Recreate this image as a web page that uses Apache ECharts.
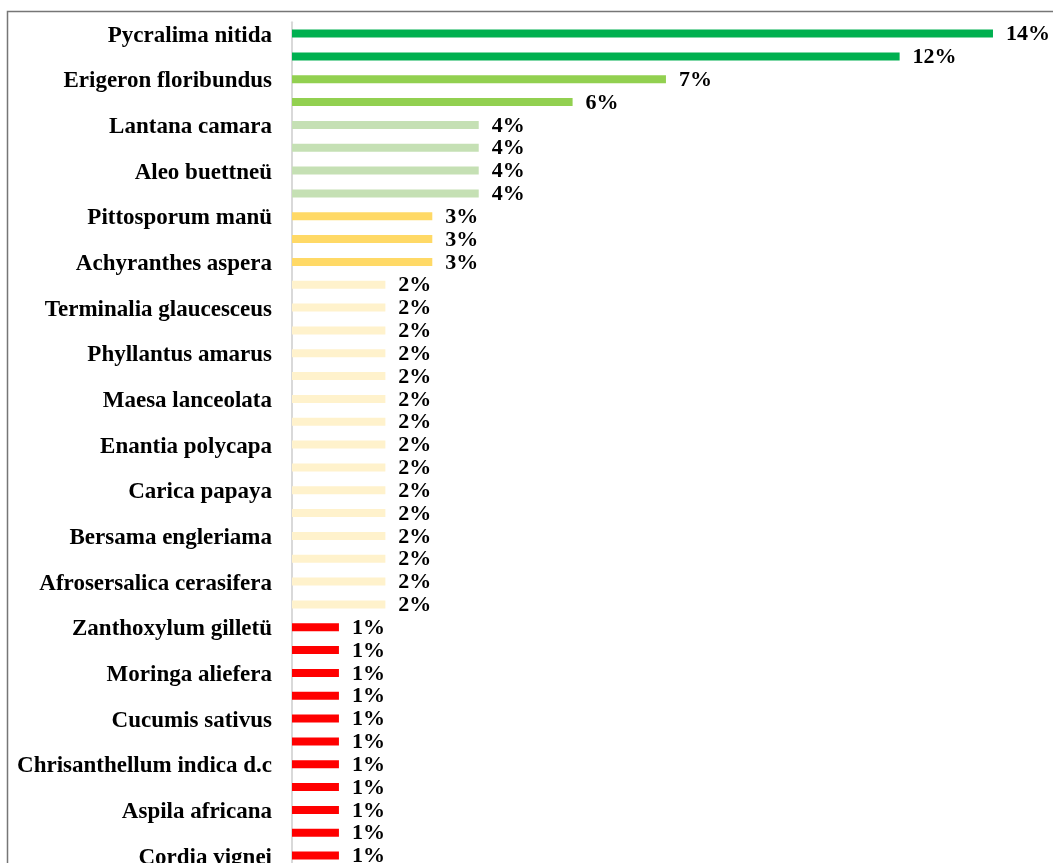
<!DOCTYPE html>
<html>
<head>
<meta charset="utf-8">
<script src="https://cdn.jsdelivr.net/npm/echarts@6/dist/echarts.min.js"></script>
<style>
html,body{margin:0;padding:0;background:#fff;}
#chart{width:1053px;height:863px;}
</style>
</head>
<body>
<div id="chart"></div>
<script>
// Categories (top to bottom); rows whose names are not shown in the picture are left blank
const categories = [
  "Pycralima nitida", "",
  "Erigeron floribundus", "",
  "Lantana camara", "",
  "Aleo buettneü", "",
  "Pittosporum manü", "",
  "Achyranthes aspera", "",
  "Terminalia glaucesceus", "",
  "Phyllantus amarus", "",
  "Maesa lanceolata", "",
  "Enantia polycapa", "",
  "Carica papaya", "",
  "Bersama engleriama", "",
  "Afrosersalica cerasifera", "",
  "Zanthoxylum gilletü", "",
  "Moringa aliefera", "",
  "Cucumis sativus", "",
  "Chrisanthellum indica d.c", "",
  "Aspila africana", "",
  "Cordia vignei"
];
// Percentages (share of citations)
const values = [
  13.89, 12.04,
  7.41, 5.56,
  3.70, 3.70, 3.70, 3.70,
  2.78, 2.78, 2.78,
  1.85, 1.85, 1.85, 1.85, 1.85, 1.85, 1.85, 1.85, 1.85, 1.85, 1.85, 1.85, 1.85, 1.85, 1.85,
  0.93, 0.93, 0.93, 0.93, 0.93, 0.93, 0.93, 0.93, 0.93, 0.93, 0.93
];

// style: colour by rounded percentage tier
function tierColor(v) {
  const r = Math.round(v);
  if (r >= 10) return '#00B050';
  if (r >= 5) return '#92D050';
  if (r === 4) return '#C5E0B4';
  if (r === 3) return '#FFD966';
  if (r === 2) return '#FFF2CC';
  return '#FF0000';
}

const chart = echarts.init(document.getElementById('chart'), null, {renderer: 'canvas'});
chart.setOption({
  animation: false,
  backgroundColor: '#ffffff',
  graphic: [{
    type: 'rect',
    shape: {x: 7.5, y: 11.5, width: 1200, height: 1000},
    style: {fill: 'none', stroke: '#767676', lineWidth: 1.5},
    silent: true,
    z: -1
  }],
  grid: {left: 292, top: 22.2, width: 757, height: 844.8, containLabel: false, outerBoundsMode: 'none'},
  xAxis: {
    type: 'value',
    min: 0,
    max: 15,
    show: false
  },
  yAxis: {
    type: 'category',
    inverse: true,
    data: categories,
    axisLine: {show: true, lineStyle: {color: '#D9D9D9', width: 2}},
    axisTick: {show: false},
    splitLine: {show: false},
    axisLabel: {
      interval: 1,
      margin: 20,
      formatter: v => v ? '{n|' + v + '}' : '',
      rich: {
        n: {
          color: '#000',
          fontFamily: 'Liberation Serif',
          fontWeight: 'bold',
          fontSize: 23,
          padding: [4, 0, 0, 0]
        }
      }
    }
  },
  series: [{
    type: 'bar',
    data: values.map(v => ({value: v, itemStyle: {color: tierColor(v)}})),
    barWidth: 8,
    label: {
      show: true,
      position: 'right',
      distance: 13,
      offset: [0, 1],
      formatter: p => Math.round(p.value) + '%',
      color: '#000',
      fontFamily: 'Liberation Serif',
      fontWeight: 'bold',
      fontSize: 22
    }
  }]
});
</script>
</body>
</html>
